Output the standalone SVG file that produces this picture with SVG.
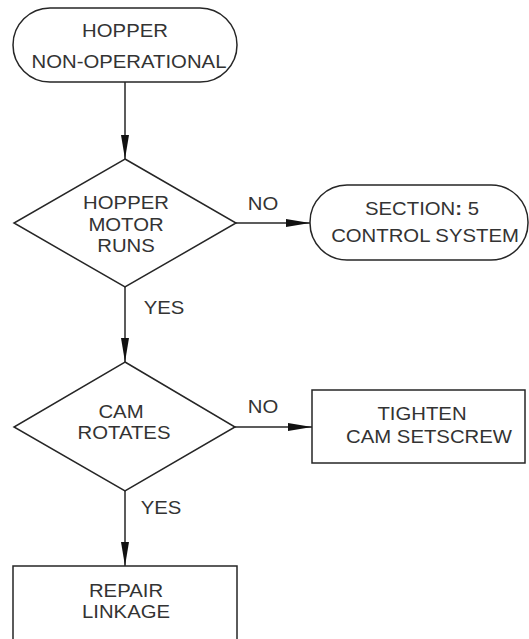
<svg xmlns="http://www.w3.org/2000/svg" width="529" height="639" viewBox="0 0 529 639">
<style>
.shape{fill:#fff;stroke:#262626;stroke-width:1.5}
.conn{stroke:#262626;stroke-width:1.5;fill:none}
.t{font-family:"Liberation Sans",Arial,sans-serif;font-size:19px;fill:#333;text-anchor:middle}
.ts{font-family:"Liberation Sans",Arial,sans-serif;font-size:19px;fill:#333;text-anchor:start}
</style>
<defs>
<marker id="arr" markerUnits="userSpaceOnUse" markerWidth="24" markerHeight="8" refX="24" refY="4" orient="auto" viewBox="0 0 24 8">
<path d="M0,0 L24,4 L0,8 Z" fill="#111"/>
</marker>
</defs>
<rect width="529" height="639" fill="#fff"/>
<g id="connectors">
<line class="conn" x1="125" y1="82" x2="125" y2="159" marker-end="url(#arr)"/>
<line class="conn" x1="236" y1="223" x2="310" y2="223" marker-end="url(#arr)"/>
<line class="conn" x1="125" y1="287" x2="125" y2="362" marker-end="url(#arr)"/>
<line class="conn" x1="235" y1="427" x2="312" y2="427" marker-end="url(#arr)"/>
<line class="conn" x1="125" y1="491" x2="125" y2="566" marker-end="url(#arr)"/>
<text class="t" transform="translate(263,210) scale(1.07,1)">NO</text>
<text class="t" transform="translate(164,314) scale(1.07,1)">YES</text>
<text class="t" transform="translate(263,413) scale(1.07,1)">NO</text>
<text class="t" transform="translate(161,514) scale(1.07,1)">YES</text>
</g>
<g id="start">
<rect class="shape" x="13" y="8" width="224" height="74" rx="37" ry="37"/>
<text class="t" transform="translate(125,37) scale(1.07,1)">HOPPER</text>
<text class="t" transform="translate(129,68) scale(1.07,1)">NON-OPERATIONAL</text>
</g>
<g id="motor-runs">
<polygon class="shape" points="125,159 236,223 125,287 14,223"/>
<text class="t" transform="translate(126,209) scale(1.07,1)">HOPPER</text>
<text class="t" transform="translate(126,231) scale(1.07,1)">MOTOR</text>
<text class="t" transform="translate(126,252) scale(1.07,1)">RUNS</text>
</g>
<g id="section5">
<rect class="shape" x="310" y="185" width="218" height="75" rx="37" ry="37"/>
<text class="t" transform="translate(422,215) scale(1.07,1)">SECTION<tspan font-weight="bold">:</tspan> 5</text>
<text class="t" transform="translate(425,242) scale(1.07,1)">CONTROL SYSTEM</text>
</g>
<g id="cam-rotates">
<polygon class="shape" points="125,362 235,427 125,491 14,427"/>
<text class="t" transform="translate(121,418) scale(1.07,1)">CAM</text>
<text class="t" transform="translate(124,439) scale(1.07,1)">ROTATES</text>
</g>
<g id="tighten">
<rect class="shape" x="312" y="390" width="213" height="73"/>
<text class="t" transform="translate(422,420) scale(1.07,1)">TIGHTEN</text>
<text class="t" transform="translate(429,443) scale(1.07,1)">CAM SETSCREW</text>
</g>
<g id="repair">
<rect class="shape" x="13" y="566" width="224" height="90"/>
<text class="t" transform="translate(126,597) scale(1.07,1)">REPAIR</text>
<text class="t" transform="translate(126,618) scale(1.07,1)">LINKAGE</text>
</g>
</svg>
